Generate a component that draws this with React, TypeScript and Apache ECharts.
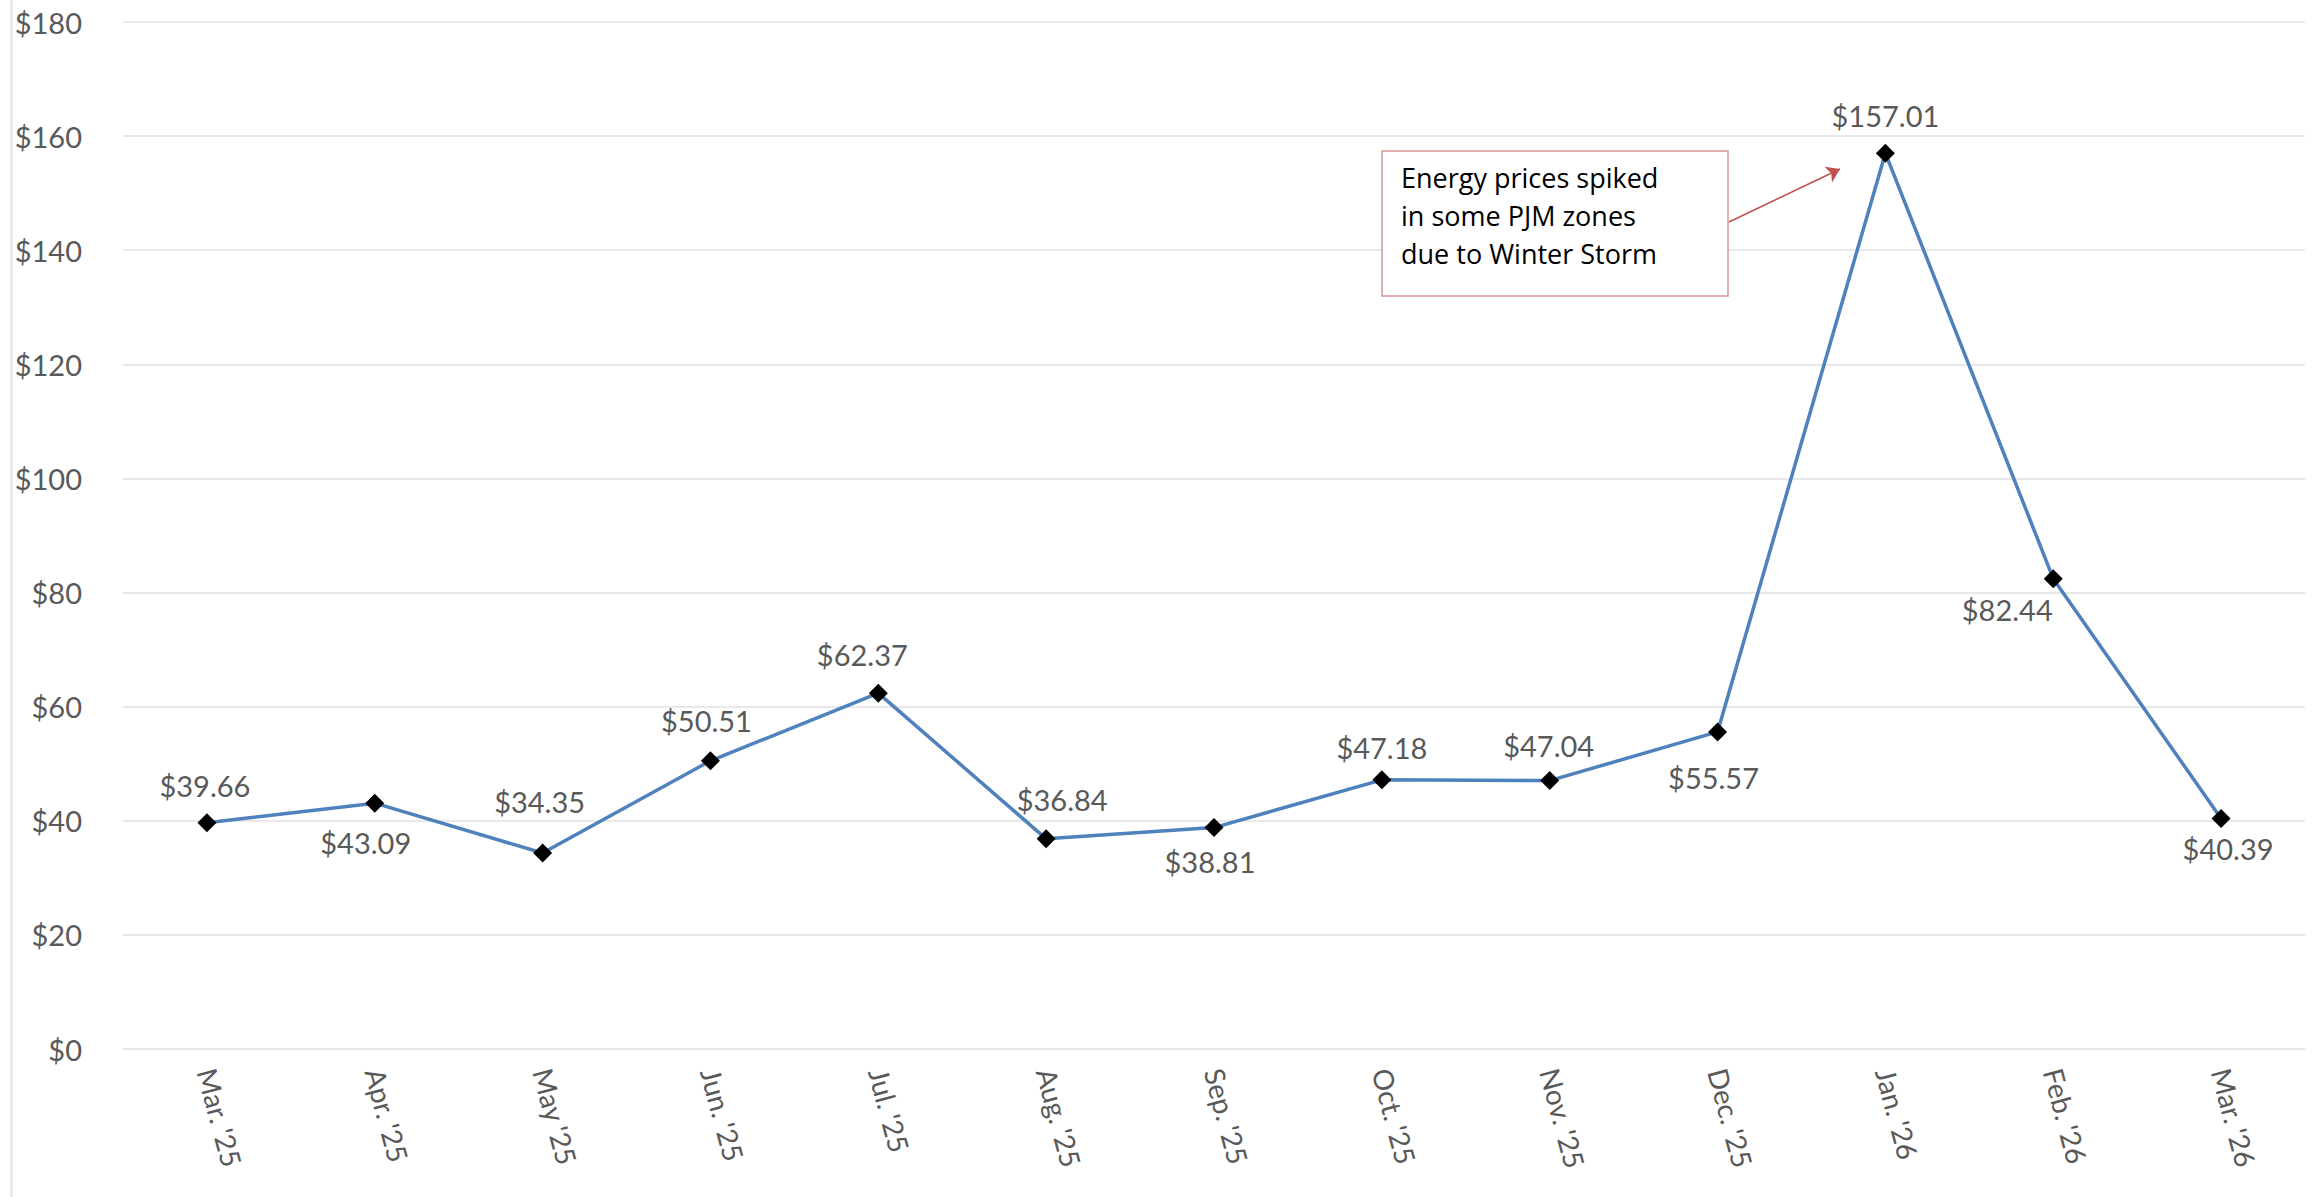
import React, { useEffect, useRef } from "react";
import * as echarts from "echarts";

const categories = [
  "Mar. '25", "Apr. '25", "May '25", "Jun. '25", "Jul. '25", "Aug. '25", "Sep. '25",
  "Oct. '25", "Nov. '25", "Dec. '25", "Jan. '26", "Feb. '26", "Mar. '26",
];
const prices = [39.66, 43.09, 34.35, 50.51, 62.37, 36.84, 38.81, 47.18, 47.04, 55.57, 157.01, 82.44, 40.39];
const yTicks = { min: 0, max: 180, interval: 20 };
const annotationLines = ["Energy prices spiked", "in some PJM zones", "due to Winter Storm"];

// layout: label centre offset from each marker, in px
const labelOffsets: [number, number][] = [
  [-2, -37], [-9, 39], [-3, -52], [-4, -40], [-16, -39], [16, -39], [-4, 34],
  [0, -32], [-1, -35], [-4, 46], [0, -38], [-46, 31], [7, 30],
];

const FONT = "Lato, 'Open Sans', sans-serif";
const GRAY = "#595959";

export default function App() {
  const ref = useRef<HTMLDivElement>(null);
  useEffect(() => {
    if (!ref.current) return;
    const chart = echarts.init(ref.current, null, { renderer: "svg" });
    const data = prices.map((v, i) => ({
      value: v,
      label: { position: "inside", offset: labelOffsets[i] },
    }));
    chart.setOption({
      animation: false,
      backgroundColor: "#ffffff",
      grid: { left: 123, right: 7, top: 22, bottom: 148, containLabel: false },
      xAxis: {
        type: "category",
        data: categories,
        boundaryGap: true,
        axisLine: { show: false },
        axisTick: { show: false },
        axisLabel: {
          rotate: -75,
          margin: 20,
          color: GRAY,
          fontFamily: FONT,
          fontSize: 28,
        },
      },
      yAxis: {
        type: "value",
        min: yTicks.min,
        max: yTicks.max,
        interval: yTicks.interval,
        axisLine: { show: false },
        axisTick: { show: false },
        splitLine: { lineStyle: { color: "#e8e8e8", width: 2 } },
        axisLabel: {
          margin: 41,
          color: GRAY,
          fontFamily: FONT,
          fontSize: 29,
          formatter: (v: number) => "$" + v,
        },
      },
      series: [
        {
          type: "line",
          data,
          symbol: "diamond",
          symbolSize: 19,
          itemStyle: { color: "#000000" },
          lineStyle: { color: "#4F81BD", width: 3.5 },
          label: {
            show: true,
            color: GRAY,
            fontFamily: FONT,
            fontSize: 29,
            align: "center",
            verticalAlign: "middle",
            formatter: (p: any) => "$" + Number(p.value).toFixed(2),
          },
          markLine: {
            silent: true,
            symbol: ["none", "arrow"],
            symbolSize: 13,
            label: { show: false },
            lineStyle: { color: "#c0504d", width: 1.5, type: "solid" },
            data: [[{ x: 1729, y: 222 }, { x: 1840, y: 169 }]],
          },
        },
      ],
      graphic: [
        {
          type: "rect",
          left: 10,
          top: 0,
          shape: { width: 3, height: 1197 },
          style: { fill: "#ebebeb" },
          silent: true,
        },
        {
          type: "rect",
          x: 1382,
          y: 151,
          shape: { width: 346, height: 145 },
          style: { fill: "#ffffff", stroke: "#dc9594", lineWidth: 1.5 },
          z: 10,
        },
        {
          type: "text",
          x: 1401,
          y: 158,
          z: 11,
          style: {
            text: annotationLines.join("\n"),
            fill: "#000000",
            font: `27px 'Open Sans', Lato, sans-serif`,
            lineHeight: 38,
            verticalAlign: "top",
            align: "left",
          },
        },
      ],
    });
    return () => chart.dispose();
  }, []);
  return (
    <div
      ref={ref}
      style={{ position: "fixed", left: 0, top: 0, width: 2312, height: 1197, background: "#fff" }}
    />
  );
}
